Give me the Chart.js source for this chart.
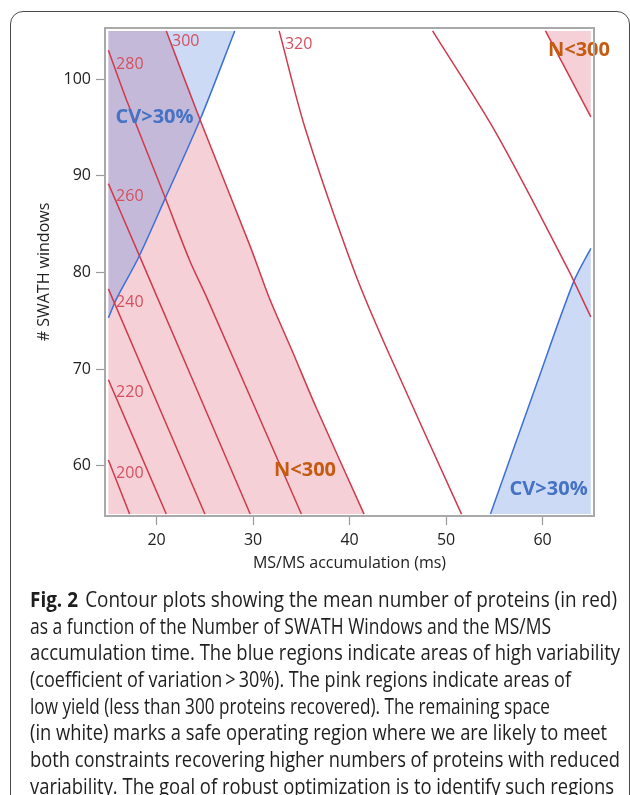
<!DOCTYPE html>
<html>
<head>
<meta charset="utf-8">
<script src="https://cdn.jsdelivr.net/npm/chart.js@4.4.1/dist/chart.umd.min.js"></script>
<style>
  html, body { margin: 0; padding: 0; background: #fff; }
  body { width: 630px; height: 795px; position: relative; overflow: hidden; }
  #wrap { position: absolute; left: 0; top: 0; width: 630px; height: 580px; }
  #frame { position: absolute; left: 10px; top: 11px; width: 618px; height: 900px;
           border: 1.5px solid #4a4a4a; border-radius: 13px; pointer-events: none; }
  #caption { position: absolute; left: 30px; top: 586px; font-family: "Open Sans", sans-serif;
             font-size: 21px; color: #1e1e1e; }
  #caption div { white-space: nowrap; height: 26.7px; line-height: 26.7px; transform-origin: 0 50%; }
  #caption b { font-weight: 700; margin-right: 8px; }
</style>
</head>
<body>
<div id="wrap"><canvas id="c" width="630" height="580"></canvas></div>
<div id="frame"></div>
<div id="caption"></div>
<script>
// ---------- data ----------
const xTicks = [20, 30, 40, 50, 60];
const yTicks = [60, 70, 80, 90, 100];

// contour lines of mean number of proteins ([x = MS/MS accumulation, y = # SWATH windows])
const contour200 = [[15, 60.6], [17.2, 55]];
const contour220 = [[15, 68.9], [21.0, 55]];
const contour240 = [[15, 78.3], [25.0, 55]];
const contour260 = [[15, 89.2], [18.4, 81.3], [29.7, 55]];
const contour280 = [[15, 103.0], [16.9, 97.8], [20.9, 87.7], [23.4, 81.3], [25.2, 77.4], [35.0, 55]];
const contour300 = [[21.0, 105], [24.5, 95.8], [29.7, 82.7], [31.7, 77.3], [34.0, 72.0], [36.5, 66.1], [41.5, 55]];
const contour320 = [[32.7, 105], [35.4, 94.9], [40.5, 80.1], [43.9, 72.0], [51.6, 55]];
const contour320b = [[48.6, 105], [55.2, 94.4], [62.5, 80.6], [65, 75.4]];
const contour300b = [[60.3, 105], [65, 96.1]];

// CV = 30% boundaries
const cvBoundaryLeft = [[15, 75.3], [15.9, 77.4], [18.1, 81.5], [20.9, 87.7], [24.5, 95.8], [28.1, 105]];
const cvBoundaryRight = [[54.6, 55], [59.4, 68.5], [63.2, 79.0], [65, 82.5]];

// shaded regions
const lowYieldLeft = [[15, 105], ...contour300, [15, 55]];
const lowYieldTopRight = [...contour300b, [65, 105]];
const highCvLeft = [...cvBoundaryLeft, [15, 105]];
const highCvRight = [...cvBoundaryRight, [65, 55]];

// contour labels [text, x, y]
const contourLabels = [
  ['300', 21.6, 103.95], ['320', 33.3, 103.55], ['280', 15.8, 101.5], ['260', 15.8, 87.85],
  ['240', 15.8, 76.9], ['220', 15.8, 67.6], ['200', 15.8, 59.25]
];
const cvLabels = [['CV>30%', 19.78, 96.04], ['CV>30%', 60.63, 57.54]];
const nLabels = [['N<300', 63.77, 102.97], ['N<300', 35.38, 59.51]];

const xTitle = 'MS/MS accumulation (ms)';
const yTitle = '# SWATH windows';

const captionLines = [
  ['Fig. 2', 'Contour plots showing the mean number of proteins (in red)'],
  ['', 'as a function of the Number of SWATH Windows and the MS/MS'],
  ['', 'accumulation time. The blue regions indicate areas of high variability'],
  ['', '(coefficient of variation\u2009>\u200930%). The pink regions indicate areas of'],
  ['', 'low yield (less than 300 proteins recovered). The remaining space'],
  ['', '(in white) marks a safe operating region where we are likely to meet'],
  ['', 'both constraints recovering higher numbers of proteins with reduced'],
  ['', 'variability. The goal of robust optimization is to identify such regions']
];

// ---------- styles ----------
const FONT = '"Open Sans", "Noto Sans", sans-serif';
const RED = '#cf3a4b';
const RED_TEXT = '#d4505f';
const BLUE = '#3d6fd6';
const BLUE_TEXT = '#4472c4';
const ORANGE = '#c55a11';
const PINK_FILL = 'rgba(228,120,140,0.35)';
const BLUE_FILL = 'rgba(85,132,222,0.30)';

const pts = a => a.map(p => ({ x: p[0], y: p[1] }));
const lineDs = (arr, color) => ({
  data: pts(arr), borderColor: color, borderWidth: 1.5, fill: false, pointRadius: 0,
  tension: 0.3, order: 0
});
const polyDs = (arr, color, order) => ({
  data: pts(arr), borderColor: 'transparent', borderWidth: 0, backgroundColor: color,
  fill: 'shape', pointRadius: 0, tension: 0, order: order
});

const datasets = [
  polyDs(lowYieldLeft, PINK_FILL, 2),
  polyDs(lowYieldTopRight, PINK_FILL, 2),
  polyDs(highCvLeft, BLUE_FILL, 1),
  polyDs(highCvRight, BLUE_FILL, 1),
  lineDs(contour200, RED), lineDs(contour220, RED), lineDs(contour240, RED),
  lineDs(contour260, RED), lineDs(contour280, RED), lineDs(contour300, RED),
  lineDs(contour320, RED), lineDs(contour320b, RED), lineDs(contour300b, RED),
  lineDs(cvBoundaryLeft, BLUE), lineDs(cvBoundaryRight, BLUE)
];

const annot = {
  id: 'annot',
  afterDatasetsDraw(chart) {
    const { ctx, chartArea: a, scales: { x, y } } = chart;
    ctx.save();
    ctx.textBaseline = 'middle';
    ctx.font = '16px ' + FONT;
    ctx.fillStyle = RED_TEXT;
    ctx.textAlign = 'left';
    contourLabels.forEach(l => ctx.fillText(l[0], x.getPixelForValue(l[1]), y.getPixelForValue(l[2])));
    ctx.font = 'bold 20px ' + FONT;
    ctx.textAlign = 'center';
    ctx.fillStyle = BLUE_TEXT;
    cvLabels.forEach(l => ctx.fillText(l[0], x.getPixelForValue(l[1]), y.getPixelForValue(l[2])));
    ctx.fillStyle = ORANGE;
    nLabels.forEach(l => ctx.fillText(l[0], x.getPixelForValue(l[1]), y.getPixelForValue(l[2])));
    ctx.strokeStyle = '#a9a9a9';
    ctx.lineWidth = 2;
    ctx.strokeRect(a.left, a.top, a.right - a.left, a.bottom - a.top);
    ctx.restore();
  }
};

new Chart(document.getElementById('c'), {
  type: 'line',
  data: { datasets },
  options: {
    responsive: false, animation: false, devicePixelRatio: 1,
    layout: { padding: { left: 0, top: 28, right: 36, bottom: 0 } },
    plugins: { legend: { display: false }, tooltip: { enabled: false } },
    elements: { line: { capBezierPoints: true } },
    scales: {
      x: {
        type: 'linear', min: 14.65, max: 65.33, position: 'bottom',
        afterBuildTicks: s => { s.ticks = xTicks.map(v => ({ value: v })); },
        afterFit: s => { s.height = 64; },
        grid: { drawOnChartArea: false, drawTicks: true, tickLength: 9, tickColor: '#9a9a9a', tickWidth: 1.2 },
        border: { display: false },
        ticks: { font: { family: FONT, size: 16 }, color: '#222', padding: 6, maxRotation: 0 },
        title: { display: true, text: xTitle, font: { family: FONT, size: 16 }, color: '#222',
                 padding: { top: 0, bottom: 7 } }
      },
      y: {
        type: 'linear', min: 54.8, max: 105.3, position: 'left',
        afterBuildTicks: s => { s.ticks = yTicks.map(v => ({ value: v })); },
        afterFit: s => { s.width = 105; },
        grid: { drawOnChartArea: false, drawTicks: true, tickLength: 9, tickColor: '#9a9a9a', tickWidth: 1.2 },
        border: { display: false },
        ticks: { font: { family: FONT, size: 16 }, color: '#222', padding: 5 },
        title: { display: true, text: yTitle, font: { family: FONT, size: 16 }, color: '#222',
                 padding: { top: 35, bottom: 0 } }
      }
    }
  },
  plugins: [annot]
});

// caption: each line fitted horizontally to the extent it has in the reference
const lineWidths = [587, 521, 590, 541, 520, 577, 590, 584];
const cap = document.getElementById('caption');
captionLines.forEach(l => {
  const d = document.createElement('div');
  if (l[0]) { const b = document.createElement('b'); b.textContent = l[0]; d.appendChild(b); }
  d.appendChild(document.createTextNode(l[1]));
  cap.appendChild(d);
});
const widthOf = d => { const r = document.createRange(); r.selectNodeContents(d); return r.getBoundingClientRect().width; };
Array.from(cap.children).forEach((d, i) => {
  d.style.transform = 'scaleX(' + (lineWidths[i] / widthOf(d)) + ')';
});
</script>
</body>
</html>
